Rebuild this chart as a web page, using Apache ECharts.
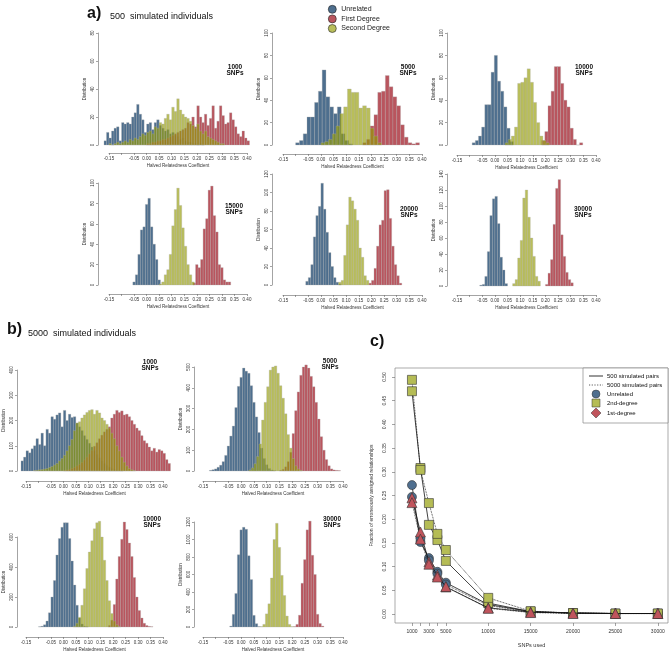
<!DOCTYPE html>
<html>
<head>
<meta charset="utf-8">
<script src="https://cdn.jsdelivr.net/npm/echarts@6/dist/echarts.min.js"></script>
<style>
html, body { margin: 0; padding: 0; background: #fff; }
#chart { width: 669px; height: 653px; }
</style>
</head>
<body>
<div id="chart"></div>
<script>
// ---- data ----
const groupNames = ['Unrelated', 'First Degree', 'Second Degree'];
const histTicks = [-0.15, -0.10, -0.05, 0.00, 0.05, 0.10, 0.15, 0.20, 0.25, 0.30, 0.35, 0.40];
const histTickLabels = [-0.15, -0.05, 0.00, 0.05, 0.10, 0.15, 0.20, 0.25, 0.30, 0.35, 0.40];
const snpLabels = ['1000\nSNPs', '5000\nSNPs', '10000\nSNPs', '15000\nSNPs', '20000\nSNPs', '30000\nSNPs',
                   '1000\nSNPs', '5000\nSNPs', '10000\nSNPs', '30000\nSNPs'];

// a) 500 simulated individuals  (starts = first bin edge for Unrelated, First, Second)
const a1Bin = 0.01, a1Starts = [-0.17, 0.0, -0.15];
const a1Unrelated = [3, 9, 5, 10, 12, 13, 3, 16, 15, 16, 15, 20, 23, 29, 22, 18, 9, 15, 16, 11, 16, 18, 14, 12, 10, 11, 8, 9, 7, 6, 4, 5, 3, 2, 2, 1, 1, 0, 1, 0];
const a1First = [1, 1, 2, 2, 3, 3, 4, 4, 5, 6, 7, 8, 9, 10, 11, 12, 16, 15, 20, 13, 28, 20, 16, 22, 14, 19, 28, 12, 17, 28, 21, 15, 16, 23, 18, 13, 8, 6, 10, 5, 3];
const a1Second = [1, 0, 1, 2, 1, 2, 3, 2, 4, 3, 5, 4, 6, 8, 7, 9, 10, 8, 13, 12, 16, 15, 19, 22, 18, 27, 24, 33, 25, 22, 20, 19, 17, 14, 12, 15, 10, 8, 10, 6, 5, 4, 3, 2, 1, 1];

const a2Bin = 0.015, a2Starts = [-0.1, 0.165, 0.0];
const a2Unrelated = [2, 4, 10, 25, 25, 38, 48, 67, 43, 34, 28, 34, 10, 4, 1];
const a2First = [2, 5, 17, 27, 47, 48, 62, 52, 43, 35, 18, 7, 2, 1, 2];
const a2Second = [2, 3, 5, 10, 17, 28, 34, 50, 47, 47, 33, 35, 33, 15, 8, 2];

const a3Bin = 0.0125, a3Starts = [-0.09, 0.185, 0.04];
const a3Unrelated = [2, 4, 8, 16, 36, 36, 65, 80, 57, 48, 34, 15, 3];
const a3First = [4, 12, 35, 48, 70, 70, 55, 40, 34, 15, 5, 0, 2];
const a3Second = [2, 5, 8, 16, 55, 56, 60, 68, 56, 38, 20, 8, 4, 2];

const a4Bin = 0.01, a4Starts = [-0.055, 0.185, 0.05];
const a4Unrelated = [3, 10, 30, 54, 57, 79, 85, 57, 40, 25, 5];
const a4First = [2, 20, 17, 25, 55, 65, 93, 97, 68, 52, 20, 17, 5, 3, 3];
const a4Second = [1, 3, 10, 15, 30, 58, 74, 95, 78, 56, 38, 20, 10, 3];

const a5Bin = 0.01, a5Starts = [-0.06, 0.19, 0.07];
const a5Unrelated = [4, 8, 22, 52, 75, 85, 110, 82, 57, 35, 20, 8, 3, 1];
const a5First = [2, 5, 18, 42, 65, 70, 102, 103, 72, 42, 22, 10, 2];
const a5Second = [3, 5, 32, 65, 95, 91, 82, 70, 40, 30, 10, 5];

const a6Bin = 0.01, a6Starts = [-0.06, 0.2, 0.07];
const a6Unrelated = [1, 2, 12, 43, 88, 109, 112, 78, 36, 20, 3];
const a6First = [2, 16, 33, 77, 122, 133, 64, 37, 17, 8, 4];
const a6Second = [3, 8, 35, 57, 110, 120, 86, 60, 37, 12, 6];

// b) 5000 simulated individuals
const b1Bin = 0.01, b1Starts = [-0.17, 0.0, -0.12];
const b1Unrelated = [40, 55, 80, 72, 88, 100, 128, 105, 150, 100, 165, 150, 215, 205, 222, 230, 175, 240, 200, 225, 212, 215, 190, 175, 160, 140, 125, 110, 95, 80, 65, 52, 40, 30, 22, 15, 10, 6, 3, 2, 1];
const b1First = [2, 4, 6, 10, 14, 20, 26, 34, 44, 55, 68, 82, 98, 112, 128, 142, 155, 165, 175, 210, 225, 240, 232, 238, 222, 225, 215, 200, 185, 170, 160, 140, 120, 110, 95, 80, 90, 75, 85, 80, 70, 45, 30];
const b1Second = [2, 3, 5, 6, 8, 10, 14, 18, 24, 30, 40, 50, 62, 80, 100, 125, 160, 190, 195, 210, 222, 232, 240, 243, 225, 240, 230, 210, 200, 185, 170, 150, 128, 100, 80, 55, 35, 20, 10, 5, 2];

const b2Bin = 0.01, b2Starts = [-0.125, 0.15, 0.03];
const b2Unrelated = [3, 6, 10, 18, 28, 45, 75, 120, 168, 216, 305, 407, 450, 495, 480, 470, 410, 330, 260, 185, 110, 60, 30, 12, 5, 2];
const b2First = [3, 8, 20, 45, 90, 180, 290, 380, 460, 500, 510, 495, 455, 405, 330, 250, 165, 100, 55, 25, 10, 5, 3, 2];
const b2Second = [5, 15, 35, 70, 130, 245, 330, 405, 485, 500, 505, 470, 410, 350, 275, 175, 110, 60, 25, 10, 3];

const b3Bin = 0.01, b3Starts = [-0.1, 0.18, 0.04];
const b3Unrelated = [2, 5, 15, 40, 95, 200, 310, 480, 590, 665, 695, 695, 590, 440, 280, 145, 60, 20, 5, 2];
const b3First = [10, 45, 150, 320, 470, 585, 700, 650, 560, 470, 330, 200, 110, 60, 25, 10, 4, 2];
const b3Second = [5, 25, 65, 145, 255, 390, 500, 575, 655, 695, 705, 600, 445, 310, 175, 90, 40, 15, 3];

const b4Bin = 0.01, b4Starts = [-0.045, 0.205, 0.075];
const b4Unrelated = [10, 144, 383, 826, 1110, 1140, 1117, 814, 542, 133, 38, 5];
const b4First = [5, 30, 135, 500, 770, 1110, 1210, 820, 600, 145, 40, 10];
const b4Second = [5, 30, 150, 265, 560, 1000, 1185, 910, 590, 360, 125, 30, 5];

// c) error fractions
const cSnps = [1000, 2000, 3000, 4000, 5000, 10000, 15000, 20000, 25000, 30000];
const cTickLabels = [1000, 3000, 5000, 10000, 15000, 20000, 25000, 30000];
const cYTicks = [0, 0.05, 0.10, 0.15, 0.20, 0.25, 0.30, 0.35, 0.40, 0.45, 0.50];
const cUnrelated500 = [0.272, 0.152, 0.118, 0.089, 0.066, 0.020, 0.005, 0.002, 0.001, 0.001];
const cUnrelated5000 = [0.247, 0.160, 0.113, 0.085, 0.062, 0.018, 0.004, 0.002, 0.001, 0.001];
const cSecond500 = [0.470, 0.308, 0.188, 0.156, 0.112, 0.023, 0.005, 0.002, 0.001, 0.001];
const cSecond5000 = [0.494, 0.304, 0.234, 0.169, 0.135, 0.034, 0.006, 0.002, 0.001, 0.001];
const cFirst500 = [0.245, 0.173, 0.110, 0.082, 0.057, 0.013, 0.004, 0.002, 0.001, 0.001];
const cFirst5000 = [0.235, 0.158, 0.105, 0.078, 0.058, 0.012, 0.003, 0.001, 0.001, 0.001];

// ---- layout / style ----
const FONT = '"Liberation Sans", Arial, sans-serif';
const AXIS = '#666';
const TXT = '#333';
const BAR_COLORS = ['rgba(59,95,130,0.9)', 'rgba(177,66,76,0.9)', 'rgba(148,155,2,0.65)'];
const SOLID = { blue: '#4f6f8f', red: '#c0545c', green: '#b5bc55' };

const histPanels = [
    { grid: { left: 109, top: 33, width: 138, height: 112 }, yMax: 80, yStep: 20, yOff: 11, xOff: 8, bin: a1Bin, starts: a1Starts, counts: [a1Unrelated, a1First, a1Second], lab: [235, 70] },
    { grid: { left: 283, top: 33, width: 139, height: 112 }, yMax: 100, yStep: 20, yOff: 11, xOff: 9, bin: a2Bin, starts: a2Starts, counts: [a2Unrelated, a2First, a2Second], lab: [408, 70] },
    { grid: { left: 457, top: 33, width: 139, height: 112 }, yMax: 100, yStep: 20, yOff: 10, xOff: 10, bin: a3Bin, starts: a3Starts, counts: [a3Unrelated, a3First, a3Second], lab: [584, 70] },
    { grid: { left: 109, top: 183, width: 138, height: 102 }, yMax: 100, yStep: 20, yOff: 11, xOff: 9, bin: a4Bin, starts: a4Starts, counts: [a4Unrelated, a4First, a4Second], lab: [234, 209] },
    { grid: { left: 283, top: 174, width: 139, height: 111 }, yMax: 120, yStep: 20, yOff: 11, xOff: 10, bin: a5Bin, starts: a5Starts, counts: [a5Unrelated, a5First, a5Second], lab: [409, 212] },
    { grid: { left: 457, top: 174, width: 139, height: 112 }, yMax: 140, yStep: 20, yOff: 10, xOff: 9, bin: a6Bin, starts: a6Starts, counts: [a6Unrelated, a6First, a6Second], lab: [583, 212] },
    { grid: { left: 26, top: 370, width: 137, height: 101 }, yMax: 400, yStep: 100, yOff: 9, xOff: 10, bin: b1Bin, starts: b1Starts, counts: [b1Unrelated, b1First, b1Second], lab: [150, 365] },
    { grid: { left: 203, top: 367, width: 140, height: 104 }, yMax: 500, yStep: 100, yOff: 9, xOff: 10, bin: b2Bin, starts: b2Starts, counts: [b2Unrelated, b2First, b2Second], lab: [330, 364] },
    { grid: { left: 26, top: 537, width: 137, height: 91 }, yMax: 600, yStep: 200, yOff: 9, xOff: 10, bin: b3Bin, starts: b3Starts, counts: [b3Unrelated, b3First, b3Second], lab: [152, 522] },
    { grid: { left: 203, top: 522, width: 140, height: 106 }, yMax: 1200, yStep: 200, yOff: 9, xOff: 10, bin: b4Bin, starts: b4Starts, counts: [b4Unrelated, b4First, b4Second], lab: [332, 522] }
];

function renderBar(params, api) {
    const lo = api.coord([api.value(0), 0]);
    const hi = api.coord([api.value(1), api.value(2)]);
    return {
        type: 'rect',
        shape: { x: lo[0], y: hi[1], width: hi[0] - lo[0], height: lo[1] - hi[1] },
        style: { fill: api.visual('color'), stroke: 'rgba(175,175,175,0.75)', lineWidth: 0.4 }
    };
}

const grids = [], xAxes = [], yAxes = [], series = [], graphics = [];

histPanels.forEach((p, k) => {
    grids.push(p.grid);
    xAxes.push({
        gridIndex: k, type: 'value', min: -0.15, max: 0.40, offset: p.xOff,
        axisLine: { show: true, onZero: false, lineStyle: { color: AXIS, width: 0.6 } },
        axisTick: { show: true, length: 2, customValues: histTicks, lineStyle: { color: AXIS, width: 0.6 } },
        axisLabel: { fontSize: 4.5, color: TXT, margin: 3, customValues: histTickLabels, formatter: v => v.toFixed(2) },
        splitLine: { show: false },
        name: 'Halved Relatedness Coefficient', nameLocation: 'middle', nameGap: 10,
        nameTextStyle: { fontSize: 4.5, color: TXT }
    });
    yAxes.push({
        gridIndex: k, type: 'value', min: 0, max: p.yMax, interval: p.yStep, offset: p.yOff,
        axisLine: { show: true, onZero: false, lineStyle: { color: AXIS, width: 0.6 } },
        axisTick: { show: true, length: 2, lineStyle: { color: AXIS, width: 0.6 } },
        axisLabel: { fontSize: 4.5, color: TXT, rotate: 90, margin: 3, formatter: v => String(v) },
        splitLine: { show: false },
        name: 'Distribution', nameLocation: 'middle', nameGap: 11, nameRotate: 90,
        nameTextStyle: { fontSize: 4.5, color: TXT }
    });
    groupNames.forEach((name, g) => {
        const data = p.counts[g].map((c, i) => [p.starts[g] + i * p.bin, p.starts[g] + (i + 1) * p.bin, c]);
        series.push({
            type: 'custom', name: name, xAxisIndex: k, yAxisIndex: k, data: data,
            itemStyle: { color: BAR_COLORS[g] }, renderItem: renderBar,
            encode: { x: [0, 1], y: 2 }, silent: true, clip: false
        });
    });
    graphics.push({
        type: 'text', x: p.lab[0], y: p.lab[1],
        style: { text: snpLabels[k], fontSize: 6.5, fontWeight: 'bold', lineHeight: 6.5, fill: '#111',
                 align: 'center', verticalAlign: 'middle', fontFamily: FONT }
    });
});

// panel c
const ci = histPanels.length;
grids.push({ left: 395, top: 368, width: 273, height: 255, show: true, borderColor: '#888', borderWidth: 0.7 });
xAxes.push({
    gridIndex: ci, type: 'value', min: -1000, max: 31200,
    axisLine: { show: false, onZero: false },
    axisTick: { show: true, length: 3, customValues: cSnps, lineStyle: { color: AXIS, width: 0.6 } },
    axisLabel: { fontSize: 5, color: TXT, margin: 6, customValues: cTickLabels, formatter: v => String(v) },
    splitLine: { show: false },
    name: 'SNPs used', nameLocation: 'middle', nameGap: 19, nameTextStyle: { fontSize: 5.5, color: TXT }
});
yAxes.push({
    gridIndex: ci, type: 'value', min: -0.019, max: 0.519,
    axisLine: { show: false, onZero: false },
    axisTick: { show: true, length: 3, customValues: cYTicks, lineStyle: { color: AXIS, width: 0.6 } },
    axisLabel: { fontSize: 5, color: TXT, rotate: 90, margin: 8, customValues: cYTicks, formatter: v => v.toFixed(2) },
    splitLine: { show: false },
    name: 'Fraction of erroneously assigned relationships', nameLocation: 'middle', nameGap: 21, nameRotate: 90,
    nameTextStyle: { fontSize: 5, color: TXT }
});

const cGroups = [
    { id: 'Unrelated', symbol: 'circle', size: 9, color: SOLID.blue, v500: cUnrelated500, v5000: cUnrelated5000 },
    { id: '2nd-degree', symbol: 'rect', size: 9, color: SOLID.green, v500: cSecond500, v5000: cSecond5000 },
    { id: '1st-degree', symbol: 'triangle', size: 10, color: SOLID.red, v500: cFirst500, v5000: cFirst5000 }
];
cGroups.forEach((g, gi) => {
    [['v500', 'solid'], ['v5000', 'dotted']].forEach(([key, lt]) => {
        series.push({
            type: 'line', name: 'c ' + g.id + ' ' + key, xAxisIndex: ci, yAxisIndex: ci,
            data: cSnps.map((s, i) => [s, g[key][i]]),
            symbol: g.symbol, symbolSize: g.size, z: 3 + gi,
            lineStyle: { color: '#111', width: 0.8, type: lt },
            itemStyle: { color: g.color, borderColor: '#333', borderWidth: 0.6 },
            silent: true
        });
    });
});

// titles
const txt = (x, y, text, size, bold) => ({
    type: 'text', x: x, y: y,
    style: { text: text, fontSize: size, fontWeight: bold ? 'bold' : 'normal', fill: '#111',
             verticalAlign: 'middle', fontFamily: FONT }
});
graphics.push(txt(87, 14, 'a)', 16, true));
graphics.push(txt(110, 17, '500  simulated individuals', 9, false));
graphics.push(txt(7, 330, 'b)', 16, true));
graphics.push(txt(28, 334, '5000  simulated individuals', 9, false));
graphics.push(txt(370, 342, 'c)', 16, true));

// legend of panel c
graphics.push({ type: 'rect', shape: { x: 583, y: 368, width: 85, height: 55 }, style: { fill: '#fff', stroke: '#888', lineWidth: 0.7 }, z: 10 });
graphics.push({ type: 'line', shape: { x1: 589, y1: 376, x2: 603, y2: 376 }, style: { stroke: '#333', lineWidth: 1 }, z: 11 });
graphics.push({ type: 'line', shape: { x1: 589, y1: 385, x2: 603, y2: 385 }, style: { stroke: '#333', lineWidth: 0.8, lineDash: [1.2, 1.5] }, z: 11 });
graphics.push({ type: 'circle', shape: { cx: 596, cy: 394, r: 4 }, style: { fill: SOLID.blue, stroke: '#333', lineWidth: 0.5 }, z: 11 });
graphics.push({ type: 'rect', shape: { x: 592, y: 399, width: 8, height: 8 }, style: { fill: SOLID.green, stroke: '#333', lineWidth: 0.5 }, z: 11 });
graphics.push({ type: 'polygon', shape: { points: [[596, 408], [601, 413], [596, 418], [591, 413]] }, style: { fill: SOLID.red, stroke: '#333', lineWidth: 0.5 }, z: 11 });
['500 simulated pairs', '5000 simulated pairs', 'Unrelated', '2nd-degree', '1st-degree'].forEach((t, i) => {
    const g = txt(607, [376, 385, 394, 403, 413][i], t, 6, false);
    g.z = 11;
    graphics.push(g);
});

const chart = echarts.init(document.getElementById('chart'), null, { renderer: 'canvas' });
chart.setOption({
    animation: false,
    backgroundColor: '#fff',
    textStyle: { fontFamily: FONT },
    legend: {
        data: groupNames, orient: 'vertical', left: 323, top: 0, itemWidth: 8, itemHeight: 8, itemGap: 1,
        icon: 'circle', selectedMode: false,
        itemStyle: { borderColor: '#222', borderWidth: 0.6 },
        textStyle: { fontSize: 7, color: '#222', fontFamily: FONT, lineHeight: 8 }
    },
    grid: grids,
    xAxis: xAxes,
    yAxis: yAxes,
    series: series,
    graphic: { elements: graphics }
});
</script>
</body>
</html>
